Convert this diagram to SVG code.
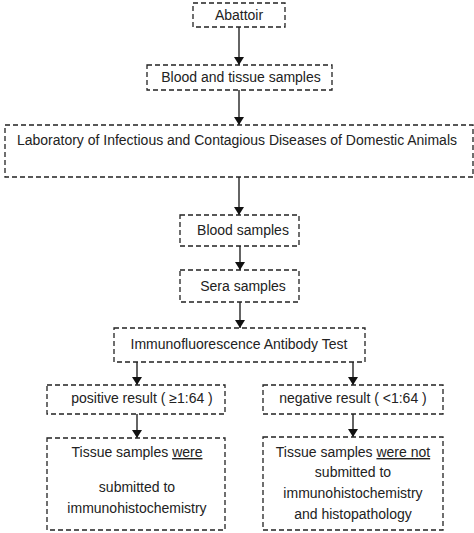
<svg xmlns="http://www.w3.org/2000/svg" width="474" height="533" viewBox="0 0 474 533">
<defs>
<style>
.box{fill:#fff;stroke:#222;stroke-width:1.3;stroke-dasharray:5,3}
.t{font-family:"Liberation Sans",Arial,sans-serif;font-size:14px;fill:#222;text-anchor:middle}
.c{stroke:#111;stroke-width:1.3;fill:none;marker-end:url(#ah)}
.ul{text-decoration:underline}
</style>
<marker id="ah" viewBox="0 0 8 10" refX="8" refY="5" markerWidth="8" markerHeight="10" markerUnits="userSpaceOnUse" orient="auto">
<path d="M0,0 L8,5 L0,10 z" fill="#111"/>
</marker>
</defs>
<rect width="474" height="533" fill="#fff"/>
<g id="connectors">
<line class="c" x1="239" y1="27" x2="239" y2="65"/>
<line class="c" x1="239" y1="90" x2="239" y2="125"/>
<line class="c" x1="239" y1="177" x2="239" y2="215"/>
<line class="c" x1="240" y1="246" x2="240" y2="270"/>
<line class="c" x1="240" y1="302" x2="240" y2="328"/>
<line class="c" x1="137" y1="362" x2="137" y2="385"/>
<line class="c" x1="353" y1="362" x2="353" y2="385"/>
<line class="c" x1="137" y1="414" x2="137" y2="438"/>
<line class="c" x1="353" y1="414" x2="353" y2="437"/>
</g>
<g id="abattoir">
<rect class="box" x="193" y="3" width="92" height="24"/>
<text class="t" x="239" y="20">Abattoir</text>
</g>
<g id="blood-tissue">
<rect class="box" x="147" y="65" width="185" height="25"/>
<text class="t" x="241" y="82">Blood and tissue samples</text>
</g>
<g id="laboratory">
<rect class="box" x="5" y="125" width="468" height="52"/>
<text class="t" x="237" y="145" textLength="440" lengthAdjust="spacingAndGlyphs">Laboratory of Infectious and Contagious Diseases of Domestic Animals</text>
</g>
<g id="blood-samples">
<rect class="box" x="180" y="215" width="119" height="31"/>
<text class="t" x="243" y="235">Blood samples</text>
</g>
<g id="sera-samples">
<rect class="box" x="180" y="270" width="119" height="32"/>
<text class="t" x="243" y="291">Sera samples</text>
</g>
<g id="ifat">
<rect class="box" x="114" y="328" width="251" height="34"/>
<text class="t" x="239" y="349">Immunofluorescence Antibody Test</text>
</g>
<g id="positive">
<rect class="box" x="47" y="385" width="178" height="29"/>
<text class="t" x="142" y="403">positive result ( ≥1:64 )</text>
</g>
<g id="negative">
<rect class="box" x="263" y="385" width="180" height="29"/>
<text class="t" x="353" y="403">negative result ( &lt;1:64 )</text>
</g>
<g id="tissue-were">
<rect class="box" x="47" y="438" width="178" height="92"/>
<text class="t" x="137" y="457">Tissue samples <tspan class="ul">were</tspan></text>
<text class="t" x="137" y="492">submitted to</text>
<text class="t" x="137" y="513">immunohistochemistry</text>
</g>
<g id="tissue-were-not">
<rect class="box" x="263" y="437" width="180" height="93"/>
<text class="t" x="353" y="457">Tissue samples <tspan class="ul">were not</tspan></text>
<text class="t" x="353" y="477">submitted to</text>
<text class="t" x="353" y="498">immunohistochemistry</text>
<text class="t" x="353" y="519">and histopathology</text>
</g>
</svg>
